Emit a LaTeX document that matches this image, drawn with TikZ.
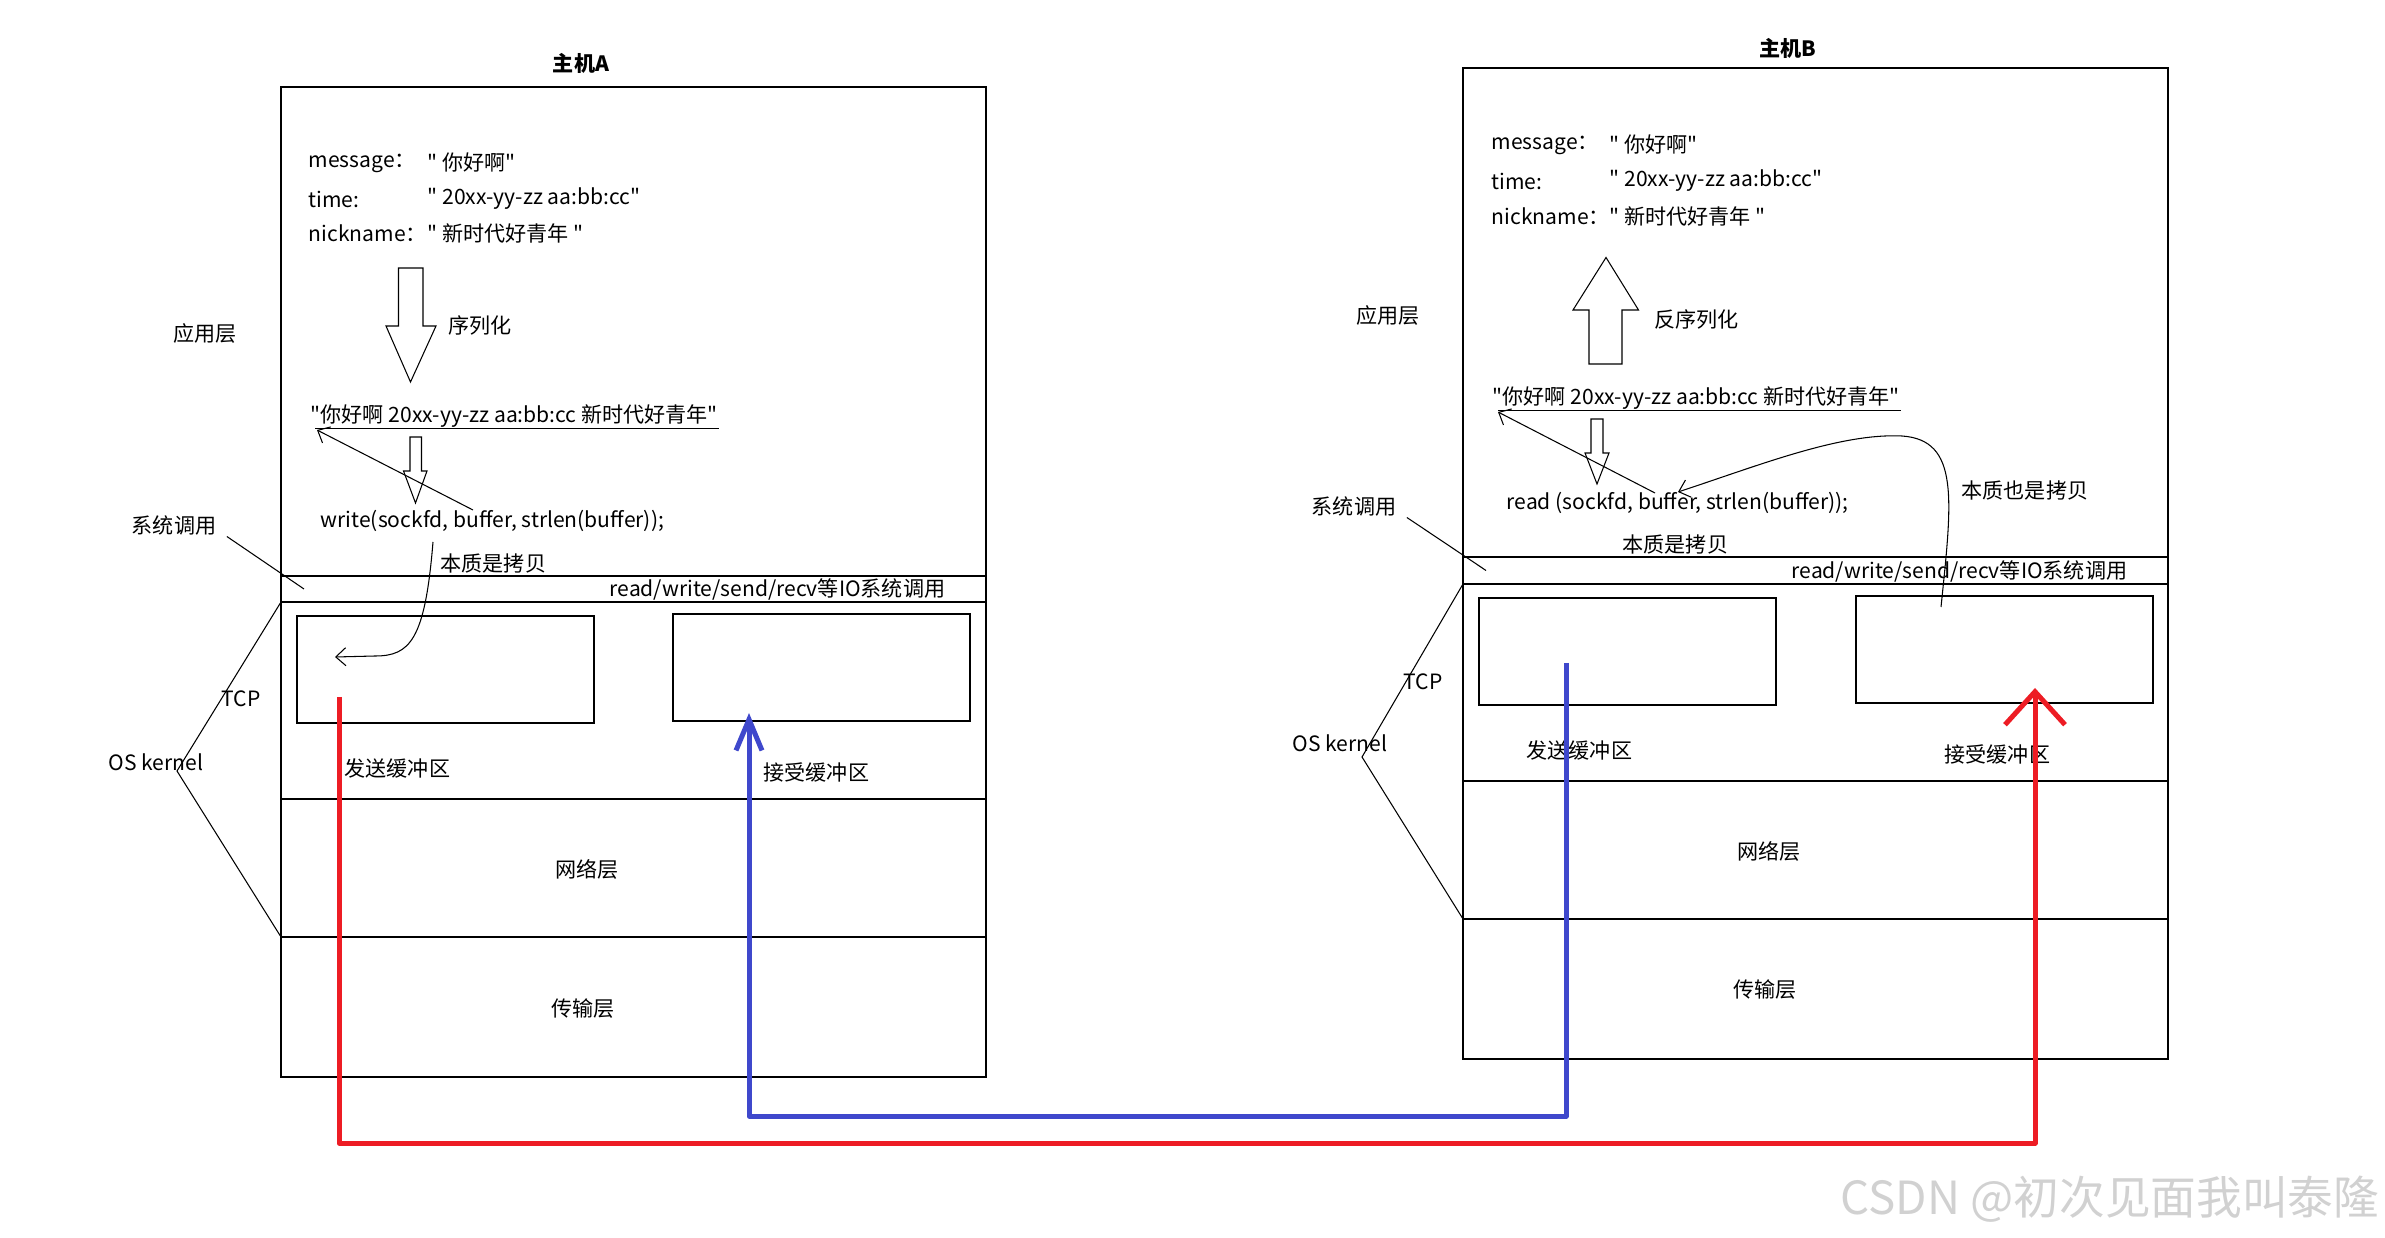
\documentclass[tikz,border=0pt]{standalone}
\usepackage{fontspec}
\setmainfont{Noto Sans CJK SC}[Ligatures=TeXOff]
\usetikzlibrary{positioning,arrows.meta,calc}
\definecolor{paintred}{RGB}{237,28,36}
\definecolor{paintblue}{RGB}{63,72,204}

\begin{document}
\begin{tikzpicture}[x=0.1mm, y=-0.1mm, line width=0.4pt,
  font=\fontsize{6}{7.2}\selectfont,
  every node/.style={inner sep=0pt},
  layer/.style={draw, anchor=north west, outer sep=0pt, minimum width=70.5mm},
  buf/.style={draw, anchor=north west, outer sep=0pt, minimum width=29.7mm, minimum height=10.7mm},
  hint/.style={line width=0.3pt},
  copyarrow/.style={line width=0.3pt, -{Straight Barb[length=1mm, width=1.8mm]}},
  flow/.style={line width=0.5mm, line join=round}]
\useasboundingbox (0,0) rectangle (2385,1238);

% host A
\node (titleA) at (581,63) {\bfseries 主机A};
\node[layer, minimum height=48.9mm] (appA) at (281,87) {};
\node[layer, minimum height=2.6mm, below=0mm of appA] (ioA) {};
\node[layer, minimum height=19.7mm, below=0mm of ioA, line width=0.6pt] (tcpA) {};
\node[layer, minimum height=13.8mm, below=0mm of tcpA] (netA) {};
\node[layer, minimum height=14mm, below=0mm of netA] (transA) {};
\node[buf, below right=1.4mm and 1.6mm of tcpA.north west] (sendA) {};
\node[buf, below right=1.2mm and 39.2mm of tcpA.north west] (recvA) {};

\node (appLabelA) at (205,334) {应用层};
\node (sysLabelA) at (174,526) {系统调用};
\node (tcpLabelA) at (241,699) {TCP};
\node (kernelLabelA) at (156,762) {OS kernel};
\node (netLabelA) at (587,869) {网络层};
\node (transLabelA) at (583,1009) {传输层};
\node[anchor=west] (sendLabelA) at (344,768) {发送缓冲区};
\node[anchor=west] (recvLabelA) at (763,772) {接受缓冲区};
\node[anchor=west] (ioLabelA) at (609,589) {read/write/send/recv等IO系统调用};

\node[anchor=west] (msgKeyA) at (308,163) {message：};
\node[anchor=west] (msgValA) at (427,163) {" 你好啊"};
\node[anchor=west] (timeKeyA) at (308,199) {time:};
\node[anchor=west] (timeValA) at (427,199) {" 20xx-yy-zz aa:bb:cc"};
\node[anchor=west] (nickKeyA) at (308,233) {nickname：};
\node[anchor=west] (nickValA) at (427,233) {" 新时代好青年 "};
\node[anchor=west] (serialLabelA) at (448,325) {序列化};
\node[anchor=west] (serA) at (310,416) {"你好啊 20xx-yy-zz aa:bb:cc 新时代好青年"};
\node[anchor=west] (callA) at (320,521) {write(sockfd, buffer, strlen(buffer));};
\node[anchor=west] (copyLabelA) at (440,563) {本质是拷贝};

\draw[hint] ($(serA.base west)+(5,6)$) -- ($(serA.base east)+(0,6)$);
\draw[hint] (398.5,268) -- (423,268) -- (423,326) -- (436,326) -- (410.5,382) -- (386,326) -- (398.5,326) -- cycle;
\draw[hint] (410,437) -- (421.5,437) -- (421.5,471) -- (427,471) -- (415.5,503) -- (403.5,471) -- (410,471) -- cycle;

\coordinate (bufWordA) at (473,510);
\coordinate (serStartA) at (317,430);
\coordinate (copyStartA) at (433,542);
\coordinate (sendInA) at (335,657);
\coordinate (kernA) at (177,771);
\draw[copyarrow] (bufWordA) -- (serStartA);
\draw[copyarrow] (copyStartA) .. controls (425,640) and (410,656) .. (375,656) -- (sendInA);
\draw[hint] ($(sysLabelA.south east)+(10,0)$) -- ($(ioA.west)+(23,0)$);
\draw[hint] (tcpA.north west) -- (kernA) -- (netA.south west);

% host B
\node (titleB) at (1788,48) {\bfseries 主机B};
\node[layer, minimum height=48.9mm] (appB) at (1463,68) {};
\node[layer, minimum height=2.7mm, below=0mm of appB] (ioB) {};
\node[layer, minimum height=19.7mm, below=0mm of ioB, line width=0.6pt] (tcpB) {};
\node[layer, minimum height=13.8mm, below=0mm of tcpB] (netB) {};
\node[layer, minimum height=14mm, below=0mm of netB] (transB) {};
\node[buf, below right=1.4mm and 1.6mm of tcpB.north west] (sendB) {};
\node[buf, below right=1.2mm and 39.3mm of tcpB.north west] (recvB) {};

\node (appLabelB) at (1388,316) {应用层};
\node (sysLabelB) at (1354,507) {系统调用};
\node (tcpLabelB) at (1423,682) {TCP};
\node (kernelLabelB) at (1340,743) {OS kernel};
\node (netLabelB) at (1769,851) {网络层};
\node (transLabelB) at (1765,990) {传输层};
\node[anchor=west] (sendLabelB) at (1526,750) {发送缓冲区};
\node[anchor=west] (recvLabelB) at (1944,754) {接受缓冲区};
\node[anchor=west] (ioLabelB) at (1791,571) {read/write/send/recv等IO系统调用};

\node[anchor=west] (msgKeyB) at (1491,145) {message：};
\node[anchor=west] (msgValB) at (1609,145) {" 你好啊"};
\node[anchor=west] (timeKeyB) at (1491,181) {time:};
\node[anchor=west] (timeValB) at (1609,181) {" 20xx-yy-zz aa:bb:cc"};
\node[anchor=west] (nickKeyB) at (1491,216) {nickname：};
\node[anchor=west] (nickValB) at (1609,216) {" 新时代好青年 "};
\node[anchor=west] (deserialLabelB) at (1654,319) {反序列化};
\node[anchor=west] (serB) at (1492,398) {"你好啊 20xx-yy-zz aa:bb:cc 新时代好青年"};
\node[anchor=west] (callB) at (1506,503) {read (sockfd, buffer, strlen(buffer));};
\node[anchor=west] (copyLabelB) at (1622,545) {本质是拷贝};
\node[anchor=west] (copyAlsoLabelB) at (1961,491) {本质也是拷贝};

\draw[hint] ($(serB.base west)+(6,6)$) -- ($(serB.base east)+(0,6)$);
\draw[hint] (1589,364) -- (1622,364) -- (1622,310) -- (1638.5,310) -- (1606,257.5) -- (1573,310) -- (1589,310) -- cycle;
\draw[hint] (1591,419) -- (1603,419) -- (1603,453) -- (1609,453) -- (1597,484) -- (1585,453) -- (1591,453) -- cycle;

\coordinate (bufWordB) at (1655,493);
\coordinate (serStartB) at (1498,412);
\coordinate (recvOutB) at (1941,607);
\coordinate (bufTopB) at (1678,492);
\coordinate (kernB) at (1362,757);
\draw[copyarrow] (bufWordB) -- (serStartB);
\draw[copyarrow] (recvOutB) .. controls (1952,500) and (1960,440) .. (1902,436) .. controls (1840,433) and (1760,465) .. (bufTopB);
\draw[hint] ($(sysLabelB.south east)+(10,0)$) -- ($(ioB.west)+(23,0)$);
\draw[hint] (tcpB.north west) -- (kernB) -- (netB.south west);

% data path between the hosts
\coordinate (redStart) at (339,697);
\coordinate (redEnd) at (2035,688);
\coordinate (blueStart) at (1566,663);
\coordinate (blueEnd) at (749,713);
\draw[flow, paintred, -{Straight Barb[length=3.3mm, width=6mm]}] (redStart) -- ++(0,446) -| (redEnd);
\draw[flow, paintblue, -{Straight Barb[length=3.1mm, width=2.6mm]}] (blueStart) -- ++(0,453) -| (blueEnd);

\node[anchor=east, text=black!18, font=\fontsize{13}{15}\selectfont] (mark) at (2380,1199) {CSDN @初次见面我叫泰隆};
\end{tikzpicture}
\end{document}
